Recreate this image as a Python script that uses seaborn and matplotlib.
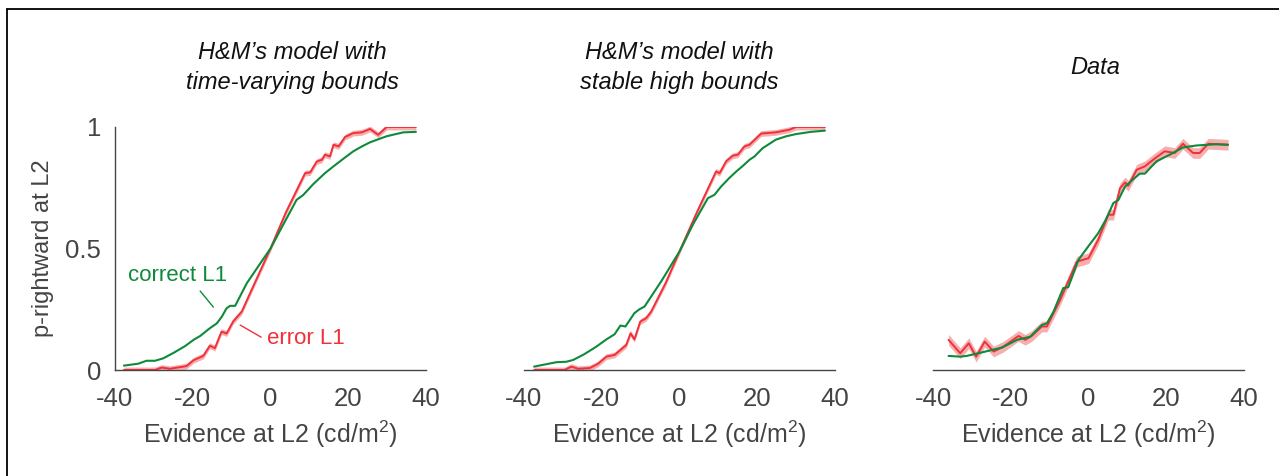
import numpy as np
import pandas as pd
import matplotlib
matplotlib.use("Agg")
import matplotlib.pyplot as plt
from matplotlib.lines import Line2D
import seaborn as sns

# ---- data ----
# panel 1: H&M model, time-varying bounds
tv_correct_x = [-37.7, -34, -31.9, -29.7, -27.6, -25, -22, -19.8, -18.1, -15.6, -13.8, -12.5, -11.3, -10.4,
                -9.1, -6.1, -3, 0, 3, 6.7, 8.4, 11, 14, 16.2, 18.8, 21.3, 23.5, 25.6, 27.8, 29.9, 32, 34.2, 37.4]
tv_correct_y = [0.018, 0.026, 0.038, 0.038, 0.048, 0.07, 0.098, 0.124, 0.14, 0.172, 0.192, 0.22, 0.254, 0.264,
                0.264, 0.357, 0.43, 0.5, 0.59, 0.70, 0.72, 0.765, 0.81, 0.838, 0.87, 0.9, 0.92, 0.937, 0.95,
                0.962, 0.97, 0.978, 0.98]
tv_error_x = [-37.7, -29.7, -28, -25.9, -21.6, -19.8, -17.3, -15.6, -14.3, -12.6, -11.3, -9.6, -7.4, -4, 0, 4,
              8.9, 10.2, 11.9, 13.2, 14, 15.3, 16.2, 17.5, 19.2, 21.3, 23.5, 25.6, 27.7, 29.9, 37.4]
tv_error_y = [0, 0, 0.01, 0.005, 0.016, 0.04, 0.058, 0.10, 0.09, 0.158, 0.15, 0.2, 0.24, 0.36, 0.5, 0.65,
              0.81, 0.813, 0.858, 0.865, 0.886, 0.879, 0.927, 0.92, 0.959, 0.975, 0.978, 0.992, 0.968, 1.0, 1.0]

# panel 2: H&M model, stable high bounds
sh_correct_x = [-37.4, -31.7, -29.1, -27.4, -24.5, -21.4, -18.8, -16.7, -15.2, -13.9, -11.6, -10.3, -9, -4.5, 0,
                3.5, 7.3, 9, 10.7, 12.8, 14.6, 16.3, 18, 19.3, 21.4, 24.8, 27.5, 30, 33.8, 37.4]
sh_correct_y = [0.014, 0.032, 0.034, 0.041, 0.065, 0.096, 0.126, 0.147, 0.183, 0.179, 0.234, 0.25, 0.261, 0.37,
                0.488, 0.6, 0.707, 0.721, 0.755, 0.79, 0.817, 0.84, 0.865, 0.879, 0.913, 0.948, 0.962, 0.971,
                0.98, 0.985]
sh_error_x = [-37.4, -29.6, -27.8, -26.1, -23.1, -21, -18.8, -16.7, -13.7, -12.6, -11.6, -10.1, -8.6, -7.3, -3.5,
              0, 4.5, 9.4, 10.3, 12, 13.7, 15, 16.7, 18, 21, 24.8, 28.3, 30, 37.4]
sh_error_y = [0, 0, 0.014, 0.005, 0.008, 0.025, 0.055, 0.062, 0.103, 0.151, 0.126, 0.199, 0.213, 0.24, 0.36,
              0.488, 0.65, 0.817, 0.81, 0.859, 0.882, 0.886, 0.92, 0.927, 0.973, 0.978, 0.989, 1.0, 1.0]

# panel 3: data
data_correct_x = [-36, -33, -31.3, -27.8, -22.3, -18.4, -15, -12, -10.7, -9, -6.5, -5.2, -2.6, 0, 2.5, 4.5,
                  6.4, 7.7, 9.4, 11.5, 13.2, 14.5, 17.5, 20.9, 24.3, 27.8, 32.9, 35.9]
data_correct_y = [0.058, 0.055, 0.058, 0.071, 0.092, 0.124, 0.137, 0.185, 0.192, 0.24, 0.337, 0.341, 0.453,
                  0.51, 0.563, 0.62, 0.687, 0.70, 0.755, 0.785, 0.808, 0.808, 0.859, 0.886, 0.916, 0.924,
                  0.929, 0.927]
data_error_x = [-36, -33, -30.8, -28.9, -26.7, -24.4, -21.9, -18, -16.3, -14.6, -12, -10.7, -7.3, -3, 0, 2.5,
                5.1, 6.4, 8.1, 9.4, 10.2, 12.4, 14.5, 17, 19.6, 22.2, 24.3, 26.9, 28.6, 30.8, 35.9]
data_error_y = [0.124, 0.069, 0.11, 0.055, 0.117, 0.076, 0.096, 0.14, 0.124, 0.14, 0.179, 0.179, 0.288, 0.446,
                0.46, 0.536, 0.639, 0.639, 0.748, 0.772, 0.758, 0.824, 0.838, 0.87, 0.9, 0.893, 0.931, 0.893,
                0.893, 0.931, 0.927]

# half-width of the shaded band around the error-L1 curve
band_err = [0.012, 0.012, 0.022]

titles = ["H&M’s model with\ntime-varying bounds", "H&M’s model with\nstable high bounds", "Data"]
title_x = [0.57, 0.5, 0.52]
xticks = [-40, -20, 0, 20, 40]
yticks = [0, 0.5, 1]
ytick_labels = ["0", "0.5", "1"]

GREEN = "#0e8a3a"
RED = "#f0303a"
PINK = "#f07a7a"
AX_COL = "#454545"
TXT_COL = "#444444"

sns.set_style("white")
plt.rcParams["font.family"] = ["Liberation Sans", "DejaVu Sans"]
plt.rcParams["mathtext.fontset"] = "custom"
plt.rcParams["mathtext.rm"] = "Liberation Sans"

fig = plt.figure(figsize=(12.79, 4.76), dpi=100)
lefts = [115 / 1279, 524 / 1279, 933 / 1279]
axes = [fig.add_axes([l, 1 - 370 / 476, 311 / 1279, 243 / 476]) for l in lefts]

panels = [
    (tv_correct_x, tv_correct_y, tv_error_x, tv_error_y),
    (sh_correct_x, sh_correct_y, sh_error_x, sh_error_y),
    (data_correct_x, data_correct_y, data_error_x, data_error_y),
]

for i, (ax, (cx, cy, ex, ey)) in enumerate(zip(axes, panels)):
    ey_arr = np.array(ey)
    ax.fill_between(ex, ey_arr - band_err[i], ey_arr + band_err[i], color=PINK, alpha=0.6, lw=0)
    sns.lineplot(x=ex, y=ey, ax=ax, color=RED, lw=1.4, sort=False, estimator=None)
    sns.lineplot(x=cx, y=cy, ax=ax, color=GREEN, lw=1.5, sort=False, estimator=None)

    ax.set_xlim(-40, 40)
    ax.set_ylim(0, 1)
    ax.set_xticks(xticks)
    ax.set_xticklabels([str(t) for t in xticks])
    ax.tick_params(axis="x", direction="in", length=4, width=1, colors=AX_COL,
                   labelsize=18.5, pad=12, labelcolor=TXT_COL)
    ax.set_xlabel("Evidence at L2 (cd/m$^{2}$)", fontsize=18, color=TXT_COL, labelpad=6)
    ax.set_facecolor("none")
    for s in ["top", "right"]:
        ax.spines[s].set_visible(False)
    ax.spines["bottom"].set_color(AX_COL)
    ax.spines["bottom"].set_linewidth(1)
    if i == 0:
        ax.set_yticks(yticks)
        ax.set_yticklabels(ytick_labels)
        ax.tick_params(axis="y", direction="out", length=3, width=1, colors=AX_COL,
                       labelsize=18.5, pad=7, labelcolor=TXT_COL)
        ax.spines["left"].set_color(AX_COL)
        ax.spines["left"].set_linewidth(1)
        ax.set_ylabel("p-rightward at L2", fontsize=17, color=TXT_COL, labelpad=8)
    else:
        ax.spines["left"].set_visible(False)
        ax.set_yticks([])
        ax.set_ylabel("")
    ax.text(title_x[i], 1.245, titles[i], transform=ax.transAxes, ha="center", va="center",
            fontsize=17, style="italic", color="#111111", linespacing=1.35)

# annotations in the first panel
ax = axes[0]
ax.text(-36.7, 0.39, "correct L1", color=GREEN, fontsize=16, ha="left", va="center")
ax.plot([-18.1, -14.7], [0.325, 0.259], color=GREEN, lw=1)
ax.text(-0.9, 0.128, "error L1", color=RED, fontsize=16, ha="left", va="center")
ax.plot([-7.8, -2.4], [0.185, 0.135], color=RED, lw=1)

# frame lines at top and left of the figure
fig.add_artist(Line2D([7 / 1279, 1], [1 - 9 / 476, 1 - 9 / 476], color="black", lw=1.3,
                      transform=fig.transFigure))
fig.add_artist(Line2D([7 / 1279, 7 / 1279], [0, 1 - 9 / 476], color="black", lw=1.3,
                      transform=fig.transFigure))

fig.savefig("out.png", dpi=100)
